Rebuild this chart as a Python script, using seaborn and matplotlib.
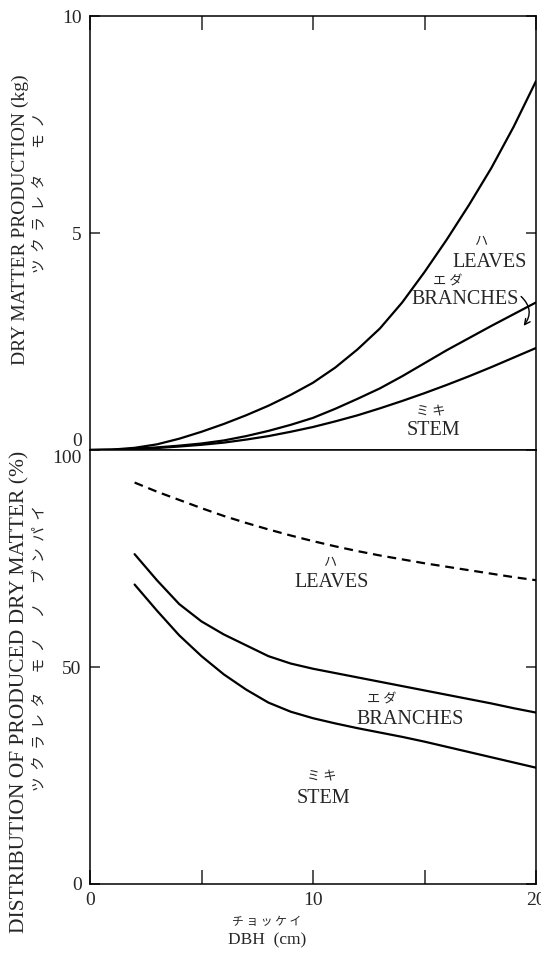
import matplotlib
matplotlib.use("Agg")
import matplotlib.pyplot as plt
import seaborn as sns
import pandas as pd

# ---------------- data ----------------
dbh_top = [0, 1, 2, 3, 4, 5, 6, 7, 8, 9, 10, 11, 12, 13, 14, 15, 16, 17, 18, 19, 20]
total_kg = [0, 0.01, 0.05, 0.13, 0.26, 0.42, 0.60, 0.80, 1.02, 1.27, 1.55, 1.90, 2.32, 2.80,
            3.40, 4.10, 4.85, 5.65, 6.50, 7.45, 8.50]
stem_branch_kg = [0, 0.005, 0.03, 0.06, 0.10, 0.15, 0.22, 0.32, 0.44, 0.58, 0.74, 0.95, 1.18,
                  1.42, 1.70, 2.00, 2.30, 2.58, 2.86, 3.13, 3.40]
stem_kg = [0, 0.004, 0.02, 0.045, 0.08, 0.12, 0.17, 0.24, 0.32, 0.42, 0.53, 0.66, 0.80, 0.96,
           1.13, 1.31, 1.50, 1.70, 1.91, 2.13, 2.35]

dbh_pct = [2, 3, 4, 5, 6, 7, 8, 9, 10, 11, 12, 13, 14, 15, 16, 17, 18, 19, 20]
dashed_pct = [92.5, 90.4, 88.5, 86.6, 84.8, 83.2, 81.7, 80.3, 79.0, 77.8, 76.7, 75.7, 74.8,
              73.9, 73.1, 72.3, 71.5, 70.7, 70.0]
stem_branch_pct = [76.0, 70.0, 64.5, 60.5, 57.5, 55.0, 52.5, 50.8, 49.6, 48.6, 47.6, 46.6,
                   45.6, 44.6, 43.6, 42.6, 41.6, 40.5, 39.5]
stem_pct = [69.0, 63.0, 57.3, 52.5, 48.3, 44.8, 41.8, 39.7, 38.2, 37.0, 35.9, 34.9, 33.9,
            32.8, 31.6, 30.4, 29.2, 28.0, 26.8]

top_yticks = [0, 5, 10]
bottom_yticks = [0, 50, 100]
xticks = [0, 5, 10, 15, 20]
xticklabels = ["0", "", "10", "", "20"]

# ---------------- style ----------------
sns.set_style("ticks")
SERIF = ["Liberation Serif", "Noto Sans CJK JP"]
JP = ["Noto Sans CJK JP", "DejaVu Sans"]
plt.rcParams["font.family"] = SERIF
plt.rcParams["axes.linewidth"] = 1.1
plt.rcParams["axes.edgecolor"] = "black"

W, H = 541, 958
fig = plt.figure(figsize=(W / 100, H / 100), dpi=100)
L, R = 90, 536
ax1 = fig.add_axes([L / W, 1 - 450 / H, (R - L) / W, (450 - 16) / H])
ax2 = fig.add_axes([L / W, 1 - 884 / H, (R - L) / W, (884 - 450) / H])

top_df = pd.DataFrame({
    "dbh": dbh_top * 3,
    "value": total_kg + stem_branch_kg + stem_kg,
    "series": ["total"] * len(dbh_top) + ["stem_branch"] * len(dbh_top) + ["stem"] * len(dbh_top),
})
for s in ["total", "stem_branch", "stem"]:
    sns.lineplot(data=top_df[top_df.series == s], x="dbh", y="value", ax=ax1,
                 color="black", lw=1.6, legend=False)

sns.lineplot(x=dbh_pct, y=dashed_pct, ax=ax2, color="black", lw=1.6, legend=False,
             linestyle=(0, (4, 2.6)))
sns.lineplot(x=dbh_pct, y=stem_branch_pct, ax=ax2, color="black", lw=1.6, legend=False)
sns.lineplot(x=dbh_pct, y=stem_pct, ax=ax2, color="black", lw=1.6, legend=False)

for ax in (ax1, ax2):
    ax.set_xlim(0, 20)
    ax.set_xlabel("")
    ax.set_ylabel("")
    for sp in ax.spines.values():
        sp.set_visible(True)
        sp.set_linewidth(1.1)

ax1.set_ylim(0, 10)
ax2.set_ylim(0, 100)

ax1.set_xticks(xticks)
ax1.set_yticks(top_yticks)
ax1.set_yticklabels([str(v) for v in top_yticks])
ax1.tick_params(axis="x", direction="in", top=True, bottom=False, labelbottom=False,
                length=10, width=1.1)
ax1.tick_params(axis="y", direction="in", left=True, right=True, length=7, width=1.1,
                labelsize=14, pad=6)

ax2.set_xticks(xticks)
ax2.set_xticklabels(xticklabels)
ax2.set_yticks(bottom_yticks)
ax2.set_yticklabels([str(v) for v in bottom_yticks])
ax2.tick_params(axis="x", direction="in", top=False, bottom=True, length=10, width=1.1,
                labelsize=14, pad=6)
ax2.tick_params(axis="y", direction="in", left=True, right=True, length=7, width=1.1,
                labelsize=14, pad=6)

# separate the shared 0 / 100 labels
for lab in ax1.get_yticklabels():
    if lab.get_text() == "0":
        lab.set_va("bottom")
for lab in ax2.get_yticklabels():
    if lab.get_text() == "100":
        lab.set_va("top")

# ---------------- annotations ----------------
def t(ax, x, y, s, size, fam):
    ax.text(x, y, s, ha="center", va="center", fontsize=size, family=fam)

EN = 14.5
KS = 9.5
t(ax1, 17.5, 4.79, "ハ", KS, JP)
t(ax1, 17.9, 4.31, "LEAVES", EN, SERIF)
t(ax1, 16.05, 3.87, "エ ダ", KS, JP)
t(ax1, 16.8, 3.46, "BRANCHES", EN, SERIF)
t(ax1, 15.3, 0.88, "ミ キ", KS, JP)
t(ax1, 15.4, 0.46, "STEM", EN, SERIF)
ax1.annotate("", xy=(19.37, 2.81), xytext=(19.24, 3.58),
             arrowprops=dict(arrowstyle="->", connectionstyle="arc3,rad=-0.5",
                             lw=1.0, color="black"))

t(ax2, 10.76, 74.0, "ハ", KS, JP)
t(ax2, 10.85, 69.4, "LEAVES", EN, SERIF)
t(ax2, 13.1, 42.4, "エ ダ", KS, JP)
t(ax2, 14.35, 38.0, "BRANCHES", EN, SERIF)
t(ax2, 10.4, 24.7, "ミ キ", KS, JP)
t(ax2, 10.45, 19.8, "STEM", EN, SERIF)

# axis titles
def ft(px, py, s, size, fam, rot=0):
    fig.text(px / W, 1 - py / H, s, ha="center", va="center", rotation=rot,
             fontsize=size, family=fam)

ft(20, 220, "DRY MATTER PRODUCTION (kg)", 14, SERIF, 90)
ft(40, 193, "ツ  ク  ラ  レ  タ        モ  ノ", 10.5, JP, 90)
ft(20, 692, "DISTRIBUTION OF PRODUCED DRY MATTER (%)", 15.5, SERIF, 90)
ft(40, 648, "ツ  ク  ラ  レ  タ      モ  ノ      ノ      ブ  ン  パ  イ", 10.5, JP, 90)
ft(267, 922, "チ ョ ッ ケ イ", 8.5, JP)
ft(267, 940, "DBH  (cm)", 12.5, SERIF)

fig.savefig("out.png", dpi=100)
